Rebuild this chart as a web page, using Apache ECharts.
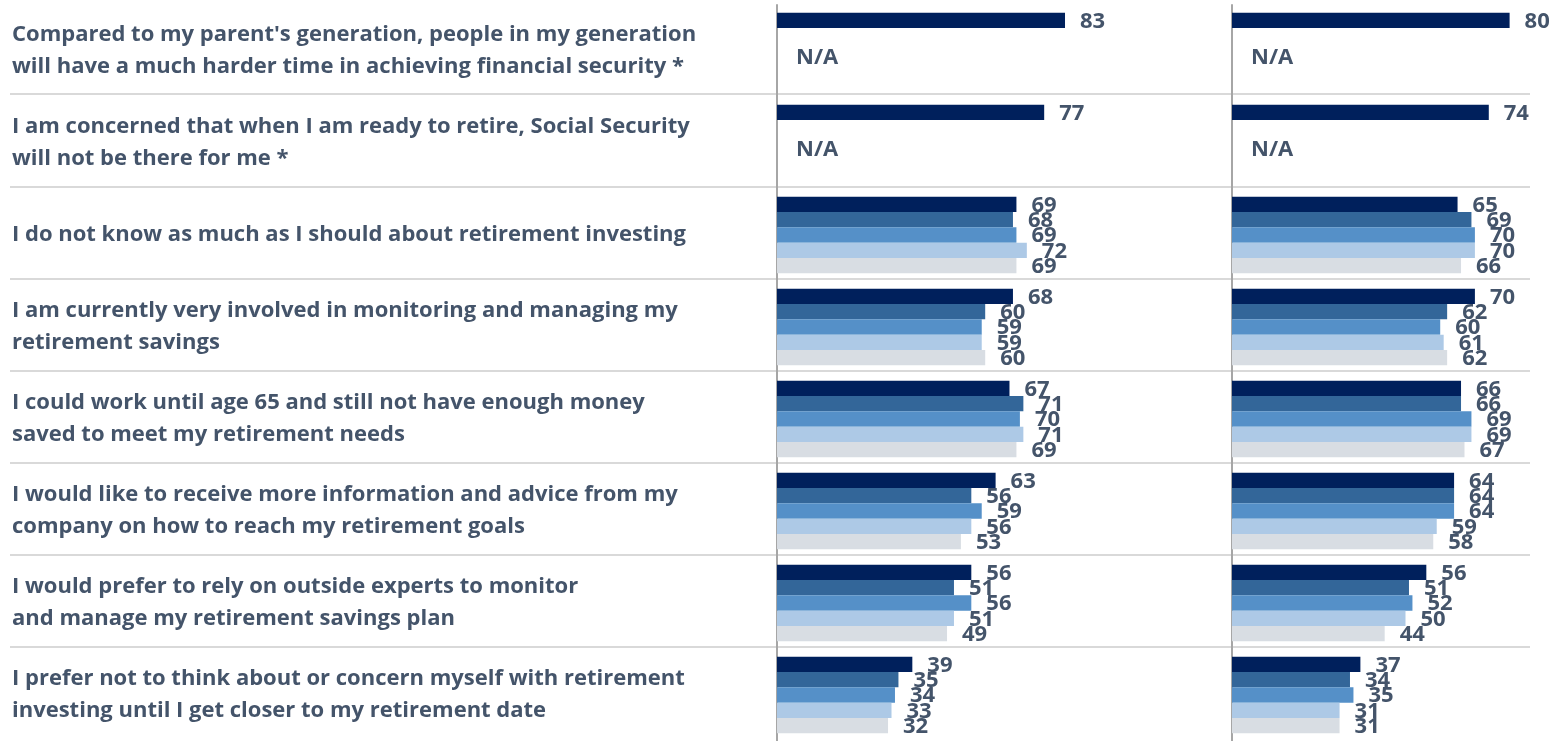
<!DOCTYPE html>
<html>
<head>
<meta charset="utf-8">
<script src="https://cdn.jsdelivr.net/npm/echarts@6/dist/echarts.min.js"></script>
<style>
  html, body { margin: 0; padding: 0; background: #fff; }
  #chart { width: 1566px; height: 741px; }
</style>
</head>
<body>
<div id="chart"></div>
<script>
var categories = [
  "Compared to my parent's generation, people in my generation\nwill have a much harder time in achieving financial security *",
  "I am concerned that when I am ready to retire, Social Security\nwill not be there for me *",
  "I do not know as much as I should about retirement investing",
  "I am currently very involved in monitoring and managing my\nretirement savings",
  "I could work until age 65 and still not have enough money\nsaved to meet my retirement needs",
  "I would like to receive more information and advice from my\ncompany on how to reach my retirement goals",
  "I would prefer to rely on outside experts to monitor\nand manage my retirement savings plan",
  "I prefer not to think about or concern myself with retirement\ninvesting until I get closer to my retirement date"
]

// left panel, five series (null = not asked)
var left1 = [83, 77, 69, 68, 67, 63, 56, 39]
var left2 = [null, null, 68, 60, 71, 56, 51, 35]
var left3 = [null, null, 69, 59, 70, 59, 56, 34]
var left4 = [null, null, 72, 59, 71, 56, 51, 33]
var left5 = [null, null, 69, 60, 69, 53, 49, 32]

// right panel
var right1 = [80, 74, 65, 70, 66, 64, 56, 37]
var right2 = [null, null, 69, 62, 66, 64, 51, 34]
var right3 = [null, null, 70, 60, 69, 64, 52, 35]
var right4 = [null, null, 70, 61, 69, 59, 50, 31]
var right5 = [null, null, 66, 62, 67, 58, 44, 31]

var colors = ['#00205C', '#336699', '#5590C8', '#ADC9E6', '#D8DDE3']
var textColor = '#44546A'
var font = 'Open Sans'

function makeSeries(arrs, gridIdx) {
  return arrs.map(function (arr, i) {
    var data = arr.map(function (v) {
      if (v === null && i === 2) {
        // show N/A where the question was not asked
        return { value: 0, label: { show: true, formatter: 'N/A', distance: 19, offset: [0, 7] } }
      }
      return v === null ? '-' : v
    })
    return {
      name: 'series ' + (i + 1),
      type: 'bar',
      xAxisIndex: gridIdx,
      yAxisIndex: gridIdx,
      data: data,
      barGap: '0%',
      barCategoryGap: '17%',
      itemStyle: { color: colors[i] },
      silent: true,
      label: {
        show: true,
        position: 'right',
        distance: 15,
        offset: [0, 1],
        color: textColor,
        fontFamily: font,
        fontWeight: 'bold',
        fontSize: 22
      }
    }
  })
}

var myChart = echarts.init(document.getElementById('chart'))
var option = {
  animation: false,
  grid: [
    { left: 777, top: 5, width: 347, height: 739 },
    { left: 1232, top: 5, width: 334, height: 739 },
    { left: 10, right: 36, top: 2, height: 737 }
  ],
  xAxis: [
    { gridIndex: 0, type: 'value', min: 0, max: 100, show: false },
    // same scale as left panel, grid cut at the page edge
    { gridIndex: 1, type: 'value', min: 0, max: 96.25, show: false },
    { gridIndex: 2, type: 'value', min: 0, max: 1, show: false }
  ],
  yAxis: [
    {
      gridIndex: 0, type: 'category', inverse: true, data: categories,
      axisLine: { show: true, lineStyle: { color: '#A6A6A6', width: 2 } },
      axisTick: { show: false },
      axisLabel: {
        align: 'left', margin: 765, color: textColor, fontFamily: font,
        fontWeight: 'bold', fontSize: 22, lineHeight: 32
      }
    },
    {
      gridIndex: 1, type: 'category', inverse: true, data: categories,
      axisLine: { show: true, lineStyle: { color: '#A6A6A6', width: 2 } },
      axisTick: { show: false },
      axisLabel: { show: false }
    },
    {
      gridIndex: 2, type: 'value', inverse: true, min: 0, max: 8, interval: 1,
      axisLine: { show: false }, axisTick: { show: false }, axisLabel: { show: false },
      splitLine: { show: true, showMinLine: false, showMaxLine: false, lineStyle: { color: '#D9D9D9', width: 2 } }
    }
  ],
  series: makeSeries([left1, left2, left3, left4, left5], 0)
    .concat(makeSeries([right1, right2, right3, right4, right5], 1))
}
myChart.setOption(option)
</script>
</body>
</html>
